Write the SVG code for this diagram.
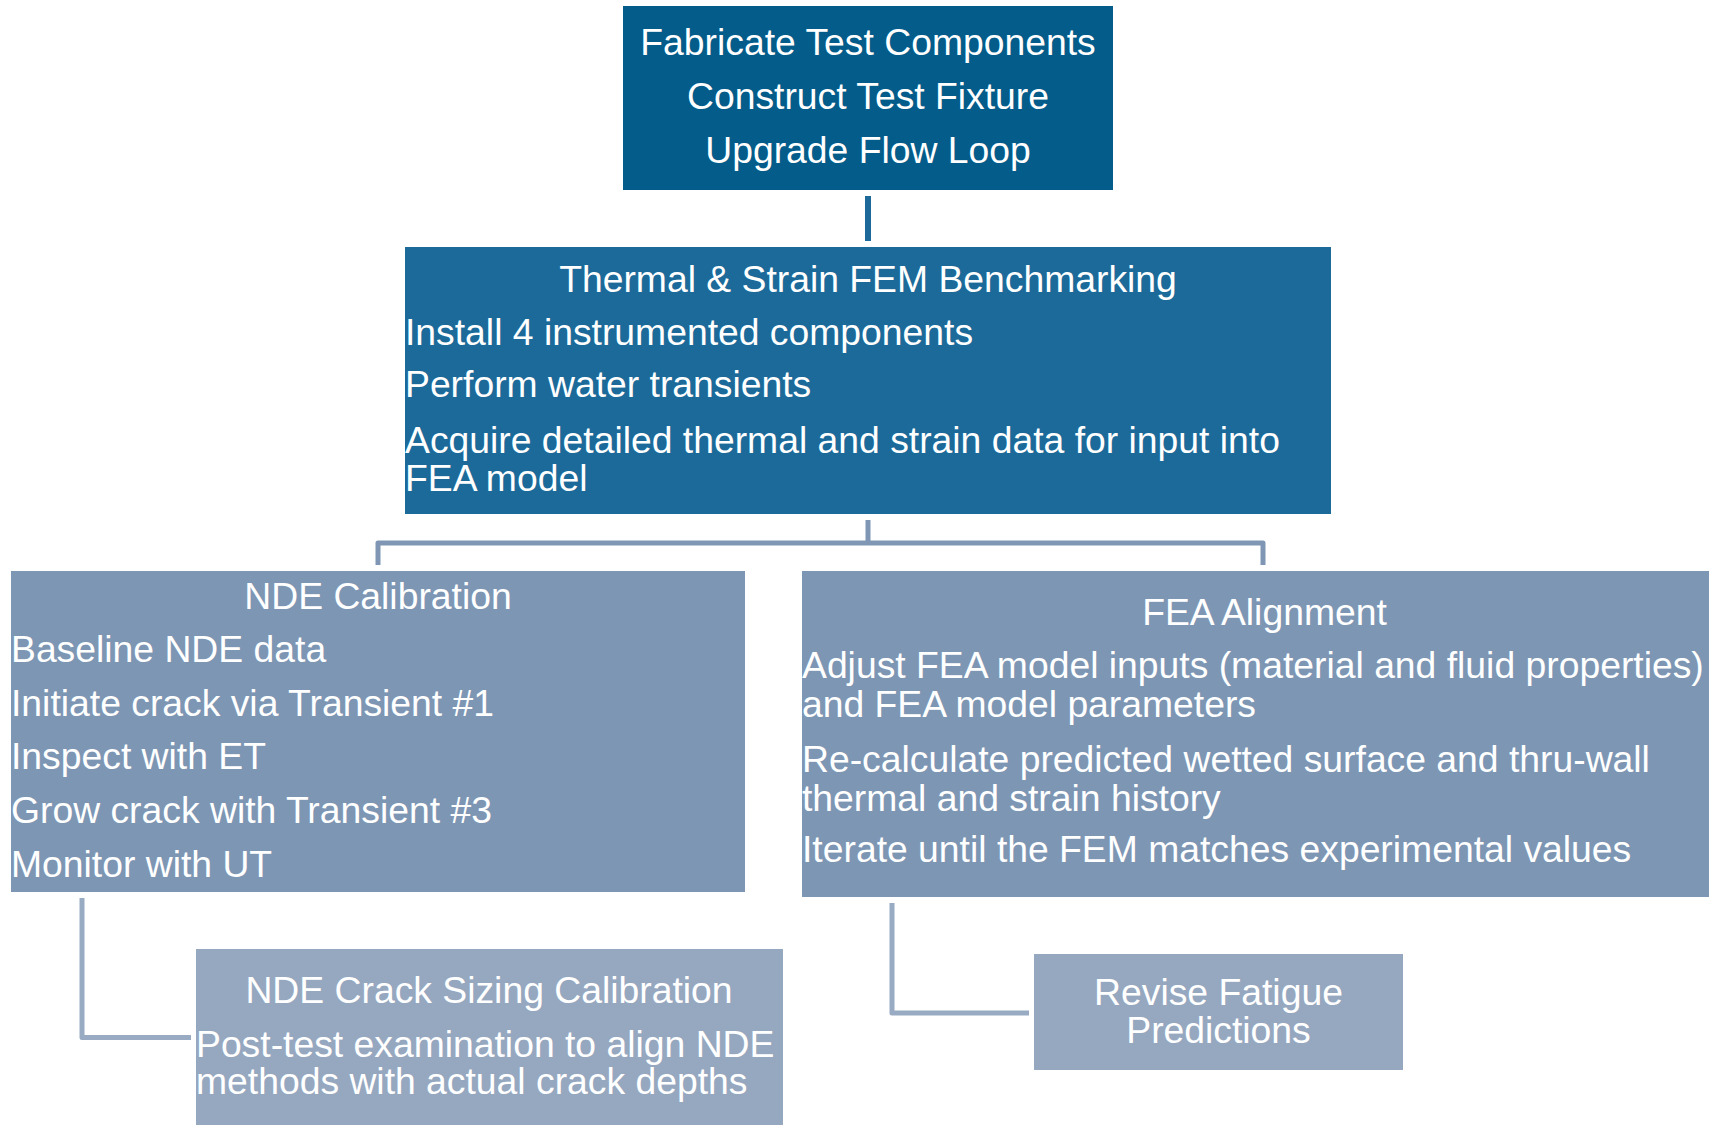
<svg xmlns="http://www.w3.org/2000/svg" width="1709" height="1125" viewBox="0 0 1709 1125">
<style>
text{font-family:"Liberation Sans",Arial,sans-serif;font-size:37.3px;fill:#ffffff}
.c{text-anchor:middle}
.k1{fill:#035c8a}
.k2{fill:#1b6a9a}
.k3{fill:#7d96b4}
.k4{fill:#96a8c0}
.ln{fill:none;stroke-linejoin:round;stroke-linecap:butt}
</style>
<rect width="1709" height="1125" fill="#ffffff"/>
<g id="connectors">
<line class="ln" x1="868" y1="196" x2="868" y2="241" stroke="#1d6a9a" stroke-width="6"/>
<path class="ln" d="M868,520 V543 M378,565 V543 H1263 V565" stroke="#7f97b4" stroke-width="5"/>
<path class="ln" d="M82,898 V1037.5 H191" stroke="#98abc3" stroke-width="5"/>
<path class="ln" d="M892,903 V1013 H1029" stroke="#98abc3" stroke-width="5"/>
</g>
<g id="fabricate">
<rect class="k1" x="623" y="6" width="490" height="184"/>
<text class="c" x="868" y="55">Fabricate Test Components</text>
<text class="c" x="868" y="108.5">Construct Test Fixture</text>
<text class="c" x="868" y="162.5">Upgrade Flow Loop</text>
</g>
<g id="benchmarking">
<rect class="k2" x="405" y="247" width="926" height="267"/>
<text class="c" x="868" y="291.5">Thermal &amp; Strain FEM Benchmarking</text>
<text x="405" y="345">Install 4 instrumented components</text>
<text x="405" y="397">Perform water transients</text>
<text x="405" y="452.5">Acquire detailed thermal and strain data for input into</text>
<text x="405" y="491">FEA model</text>
</g>
<g id="nde-calibration">
<rect class="k3" x="11" y="571" width="734" height="321"/>
<text class="c" x="378" y="609">NDE Calibration</text>
<text x="11" y="661.7">Baseline NDE data</text>
<text x="11" y="716">Initiate crack via Transient #1</text>
<text x="11" y="769">Inspect with ET</text>
<text x="11" y="823">Grow crack with Transient #3</text>
<text x="11" y="876.7">Monitor with UT</text>
</g>
<g id="fea-alignment">
<rect class="k3" x="802" y="571" width="925" height="326"/>
<text class="c" x="1264.5" y="625">FEA Alignment</text>
<text x="802" y="678.3">Adjust FEA model inputs (material and fluid properties)</text>
<text x="802" y="716.7">and FEA model parameters</text>
<text x="802" y="771.7">Re-calculate predicted wetted surface and thru-wall</text>
<text x="802" y="811">thermal and strain history</text>
<text x="802" y="861.7">Iterate until the FEM matches experimental values</text>
</g>
<g id="crack-sizing">
<rect class="k4" x="196" y="949" width="587" height="190"/>
<text class="c" x="489" y="1003">NDE Crack Sizing Calibration</text>
<text x="196" y="1057">Post-test examination to align NDE</text>
<text x="196" y="1094">methods with actual crack depths</text>
</g>
<g id="revise-fatigue">
<rect class="k4" x="1034" y="954" width="369" height="116"/>
<text class="c" x="1218.5" y="1005">Revise Fatigue</text>
<text class="c" x="1218.5" y="1043">Predictions</text>
</g>
</svg>
